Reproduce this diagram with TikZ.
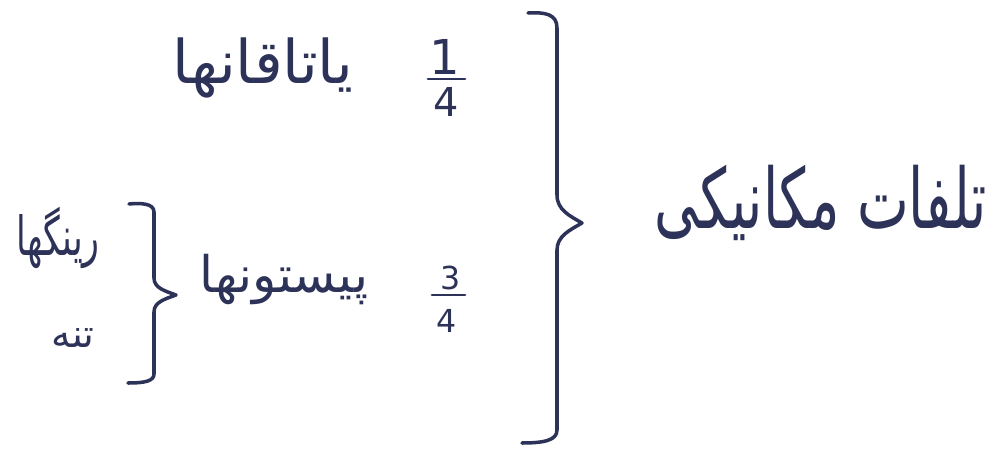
\documentclass[tikz,border=0pt]{standalone}
\usepackage{fontspec}
\usepackage{graphicx}
\TeXXeTstate=1
\newfontfamily\fa[Script=Arabic]{DejaVu Sans}
\newfontfamily\numfont{DejaVu Sans}
\definecolor{ink}{RGB}{45,50,88}
\tikzset{
  brace/.style={draw=ink, line width=3pt, line cap=round, line join=round},
  lbl/.style={text=ink, inner sep=0pt, anchor=center},
  digit/.style={text=ink, inner sep=0pt, anchor=center},
  bar/.style={draw=ink, line width=2.4pt, line cap=round}
}
\begin{document}
\begin{tikzpicture}[x=0.03cm,y=-0.03cm]
\fill[white] (0,0) rectangle (998,453);
\useasboundingbox (0,0) rectangle (998,453);
% big brace
\draw[brace] (528,13) .. controls (545,12) and (557,14) .. (557,28) -- (557,195)
  .. controls (557,210) and (570,216) .. (582,223)
  .. controls (570,230) and (557,236) .. (557,250) -- (557,430)
  .. controls (557,440) and (545,443) .. (522,443);
% small brace
\draw[brace] (129,204) .. controls (140,203) and (154,203) .. (154,212) -- (154,278)
  .. controls (154,288) and (165,291) .. (176,295)
  .. controls (165,299) and (154,302) .. (154,312) -- (154,374)
  .. controls (154,381) and (145,383) .. (128,383);
% labels
\node[lbl] (main) at (821,203) {\resizebox{9.96cm}{1.9cm}{\fa\beginR تلفات مکانیکی\endR}};
\node[lbl] (bear) at (263,68) {\resizebox{5.4cm}{!}{\fa\beginR یاتاقانها\endR}};
\node[lbl] (pist) at (284,280) {\resizebox{5.04cm}{!}{\fa\beginR پیستونها\endR}};
\node[lbl] (ring) at (58,238) {\resizebox{2.5cm}{1.45cm}{\fa\beginR رینگها\endR}};
\node[lbl] (body) at (73,338) {\resizebox{1.3cm}{!}{\fa\beginR تنه\endR}};
% fractions
\node[digit, font=\numfont\fontsize{41}{44}\selectfont] (n1) at (445,57) {1};
\node[digit, font=\numfont\fontsize{34}{38}\selectfont] (d1) at (446,102) {4};
\coordinate (b1l) at (428,79);
\coordinate (b1r) at (465,79);
\draw[bar] (b1l) -- (b1r);
\node[digit, font=\numfont\fontsize{27}{30}\selectfont] (n3) at (451,278) {3};
\node[digit, font=\numfont\fontsize{27}{30}\selectfont] (d3) at (447,321) {4};
\coordinate (b3l) at (432,295);
\coordinate (b3r) at (465,295);
\draw[bar] (b3l) -- (b3r);
\end{tikzpicture}
\end{document}
